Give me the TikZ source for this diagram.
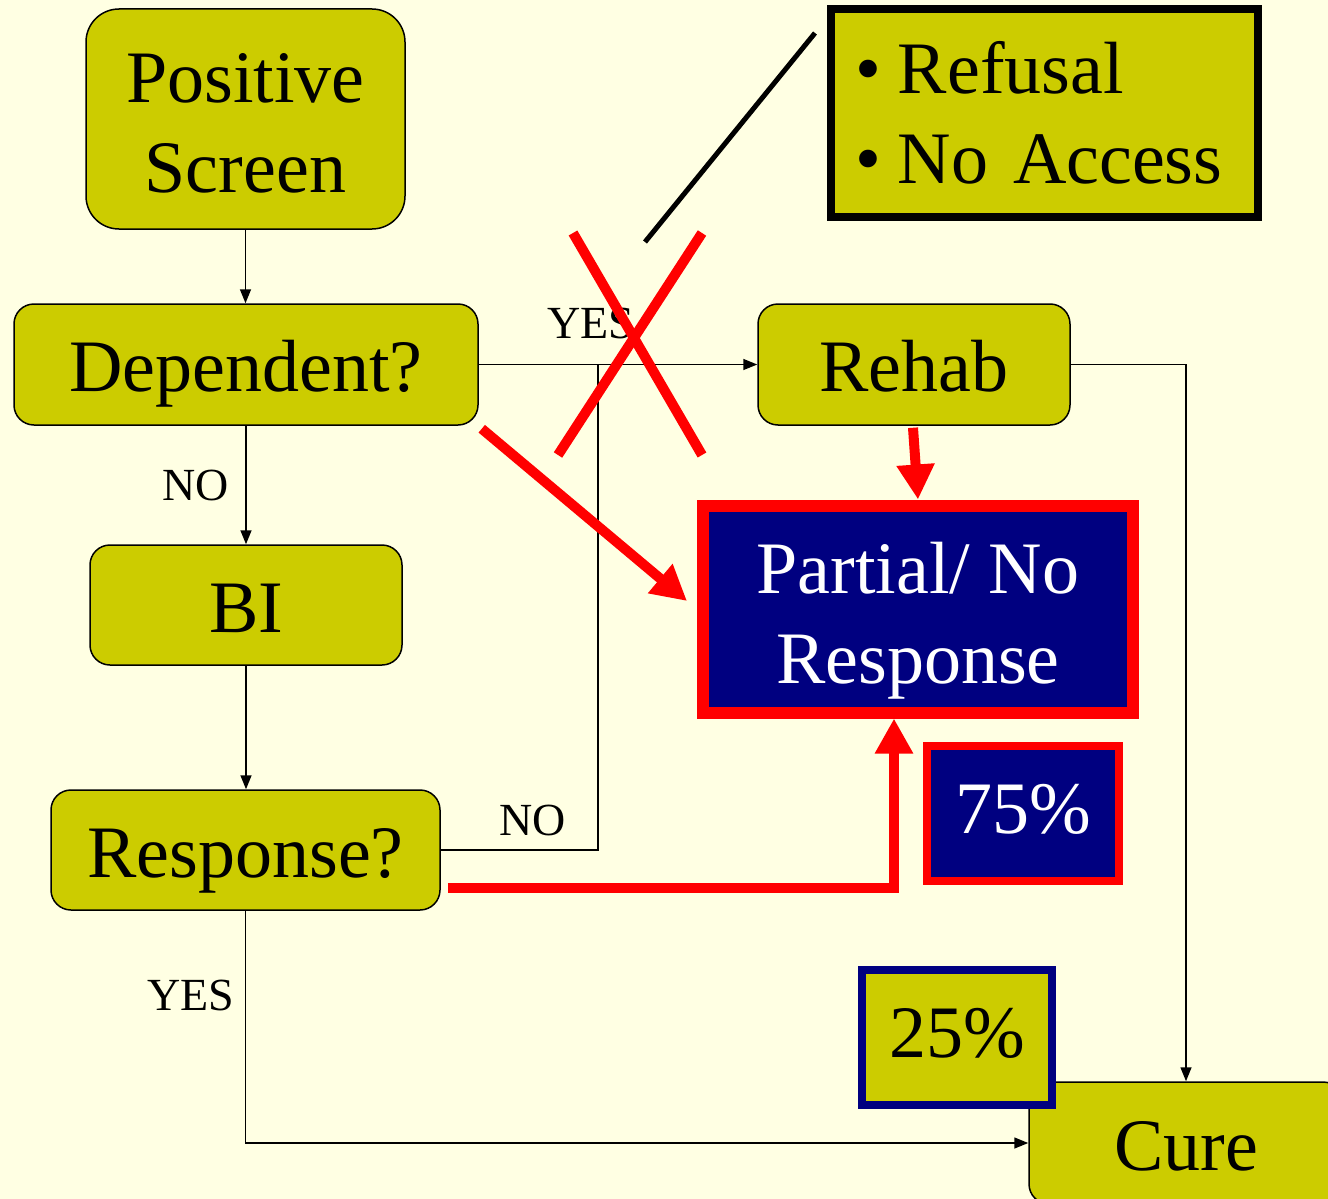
\documentclass[tikz,border=0pt]{standalone}
\usepackage{fontspec}
\setmainfont{Liberation Serif}
\usetikzlibrary{arrows.meta,calc}
\definecolor{bgc}{HTML}{FFFFE3}
\definecolor{olivec}{HTML}{CCCC00}
\definecolor{navyc}{HTML}{000080}
\definecolor{redc}{HTML}{FF0000}
\begin{document}
\begin{tikzpicture}[x=1pt,y=-1pt,
  bigfont/.style={font=\fontsize{74}{90}\selectfont},
  boxbase/.style={draw=black, line width=1.5pt, fill=olivec, rounded corners=20pt, inner sep=0pt, bigfont},
  box/.style={boxbase, text height=54pt, text depth=0pt},
  pct/.style={line width=8pt, inner sep=0pt, bigfont, text height=50pt, text depth=10pt, minimum height=135pt},
  lbl/.style={font=\fontsize{46}{46}\selectfont, anchor=base, inner sep=0pt},
  conn/.style={line width=1.5pt, -{Triangle[length=14pt,width=11pt]}},
  redarrow/.style={draw=redc, line width=10pt, -{Triangle[length=35pt,width=36pt]}},
  redline/.style={draw=redc, line width=10pt}
]
\fill[bgc] (0,0) rectangle (1328,1199);
\useasboundingbox (0,0) rectangle (1328,1199);
\clip (0,0) rectangle (1328,1199);

% nodes
\node[boxbase, minimum width=319pt, minimum height=220pt, rounded corners=33pt, align=center] (pos) at (245.5,119) {\rule{0pt}{57pt}Positive\\Screen};
\node[box, minimum width=464pt, minimum height=121pt] (dep) at (246,364.5) {Dependent?};
\node[box, minimum width=312pt, minimum height=120pt] (bi) at (246,605) {BI};
\node[box, minimum width=389pt, minimum height=120pt] (resp) at (245.5,850) {Response?};
\node[box, minimum width=312pt, minimum height=121pt] (rehab) at (914,364.5) {Rehab};
\node[box, minimum width=314pt, minimum height=122pt] (cure) at (1186,1143) {Cure};

\node[draw=redc, line width=12pt, fill=navyc, text=white, bigfont, align=center,
      minimum width=430pt, minimum height=207pt, inner sep=0pt] (partial) at (918,609) {\rule{0pt}{75pt}Partial/ No\\Response};
\node[pct, draw=redc, fill=navyc, text=white, minimum width=192pt] (p75) at (1023,813.5) {75\%\hspace{6pt}};
\node[pct, draw=navyc, fill=olivec, minimum width=190pt] (p25) at (957,1037) {25\%\hspace{12pt}};
\node[draw=black, line width=8pt, fill=olivec, bigfont, text width=379pt, align=left,
      minimum width=427pt, minimum height=208pt, inner sep=0pt] (ref) at (1044.5,113)
      {\textbullet\hspace{17pt}Refusal\\\textbullet\hspace{17pt}No Access};

% black connectors
\draw[conn] (pos.south) -- (pos.south |- dep.north);
\draw[conn] (dep.south) -- (dep.south |- bi.north);
\draw[conn] (bi.south) -- (bi.south |- resp.north);
\draw[conn] (dep.east) -- (rehab.west);
\coordinate (J) at (598,364.5);
\draw[line width=1.5pt] (resp.east) -| (J);
\draw[conn] (rehab.east) -| (cure.north);
\draw[conn] (resp.south) |- (cure.west);

% labels
\node[lbl] (noA) at (196,500) {NO};
\node[lbl] (yesA) at (590.5,338) {YES};
\node[lbl] (noB) at (532.5,835) {NO};
\node[lbl] (yesB) at (191,1010) {YES};

% red arrows
\draw[redarrow] ($(dep.south east)+(3,3)$) -- ($(partial.west)+(-10,-8)$);
\draw[redarrow] ($(rehab.south)+(-1,2)$) -- (partial.north);
\draw[redarrow] ($(resp.east)+(7,38)$) -| ($(partial.south)+(-24,0)$);

% red cross
\draw[redline] (573,233) -- (702,455);
\draw[redline] (702,233) -- (558,455);

% black pointer line
\coordinate (bl1) at (815,33);
\coordinate (bl2) at (645,242);
\draw[line width=5pt] (bl1) -- (bl2);
\end{tikzpicture}
\end{document}
